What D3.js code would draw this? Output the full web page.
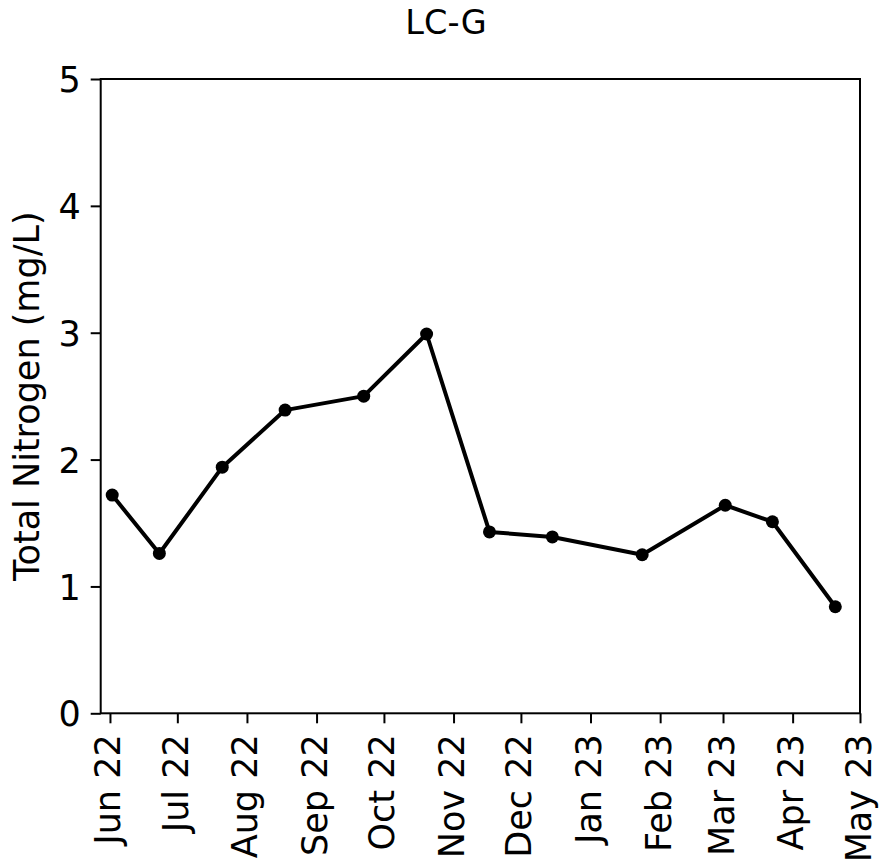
<!DOCTYPE html>
<html>
<head>
<meta charset="utf-8">
<script src="https://cdn.jsdelivr.net/npm/d3@7"></script>
<style>
  html, body { margin: 0; padding: 0; background: #fff; }
  text { font-family: "DejaVu Sans", sans-serif; fill: #000; }
</style>
</head>
<body>
<svg id="chart" width="881" height="867"></svg>
<script>
const title = "LC-G";
const yLabel = "Total Nitrogen (mg/L)";
const sampleDates = ["2022-06-02", "2022-06-23", "2022-07-21", "2022-08-18", "2022-09-22", "2022-10-20",
                     "2022-11-17", "2022-12-15", "2023-01-24", "2023-03-02", "2023-03-23", "2023-04-20"];
const totalNitrogen = [1.72, 1.26, 1.94, 2.39, 2.50, 2.99, 1.43, 1.39, 1.25, 1.64, 1.51, 0.84];
const yTicks = [0, 1, 2, 3, 4, 5];
const xTickMonths = ["2022-06-01", "2022-07-01", "2022-08-01", "2022-09-01", "2022-10-01", "2022-11-01",
                     "2022-12-01", "2023-01-01", "2023-02-01", "2023-03-01", "2023-04-01", "2023-05-01"];
const xDomain = ["2022-05-27T21:00:00Z", "2023-05-01T00:00:00Z"];

const parse = d3.isoParse;
const data = sampleDates.map((d, i) => ({ date: parse(d), value: totalNitrogen[i] }));

const svg = d3.select("#chart");
const pLeft = 100.7, pRight = 860, pTop = 79, pBottom = 713.3;

const x = d3.scaleUtc().domain(xDomain.map(parse)).range([pLeft, pRight]);
const y = d3.scaleLinear().domain([0, 5]).range([pBottom, pTop]);

const fmt = d3.utcFormat("%b %y");

// Title
svg.append("text")
  .attr("x", 446)
  .attr("y", 34)
  .attr("text-anchor", "middle")
  .style("font-size", "33.5px")
  .text(title);

// Y axis
const yAxis = svg.append("g")
  .attr("transform", `translate(${pLeft},0)`)
  .call(d3.axisLeft(y).tickValues(yTicks).tickFormat(d3.format("d")).tickSize(10).tickPadding(10));
yAxis.select(".domain").remove();
yAxis.selectAll(".tick line").attr("stroke", "#000").attr("stroke-width", 2);
yAxis.selectAll(".tick text").style("font-size", "35px").attr("dy", "0.36em");

// X axis
const xAxis = svg.append("g")
  .attr("transform", `translate(0,${pBottom})`)
  .call(d3.axisBottom(x).tickValues(xTickMonths.map(parse)).tickFormat(fmt).tickSize(10).tickPadding(0));
xAxis.select(".domain").remove();
xAxis.selectAll(".tick line").attr("stroke", "#000").attr("stroke-width", 2);
xAxis.selectAll(".tick text")
  .style("font-size", "35px")
  .attr("text-anchor", "end")
  .attr("dominant-baseline", "central")
  .attr("dy", null)
  .attr("y", 0)
  .attr("transform", "translate(-2,21) rotate(-90)");

// Frame
svg.append("rect")
  .attr("x", pLeft).attr("y", pTop)
  .attr("width", pRight - pLeft).attr("height", pBottom - pTop)
  .attr("fill", "none").attr("stroke", "#000").attr("stroke-width", 2);

// Y label
svg.append("text")
  .attr("transform", `translate(39,${(pTop + pBottom) / 2}) rotate(-90)`)
  .attr("text-anchor", "middle")
  .style("font-size", "35px")
  .text(yLabel);

// Line
const line = d3.line().x(d => x(d.date)).y(d => y(d.value));
svg.append("path")
  .datum(data)
  .attr("d", line)
  .attr("fill", "none")
  .attr("stroke", "#000")
  .attr("stroke-width", 4)
  .attr("stroke-linejoin", "round");

svg.append("g").selectAll("circle")
  .data(data)
  .join("circle")
  .attr("cx", d => x(d.date))
  .attr("cy", d => y(d.value))
  .attr("r", 6.5)
  .attr("fill", "#000");
</script>
</body>
</html>
